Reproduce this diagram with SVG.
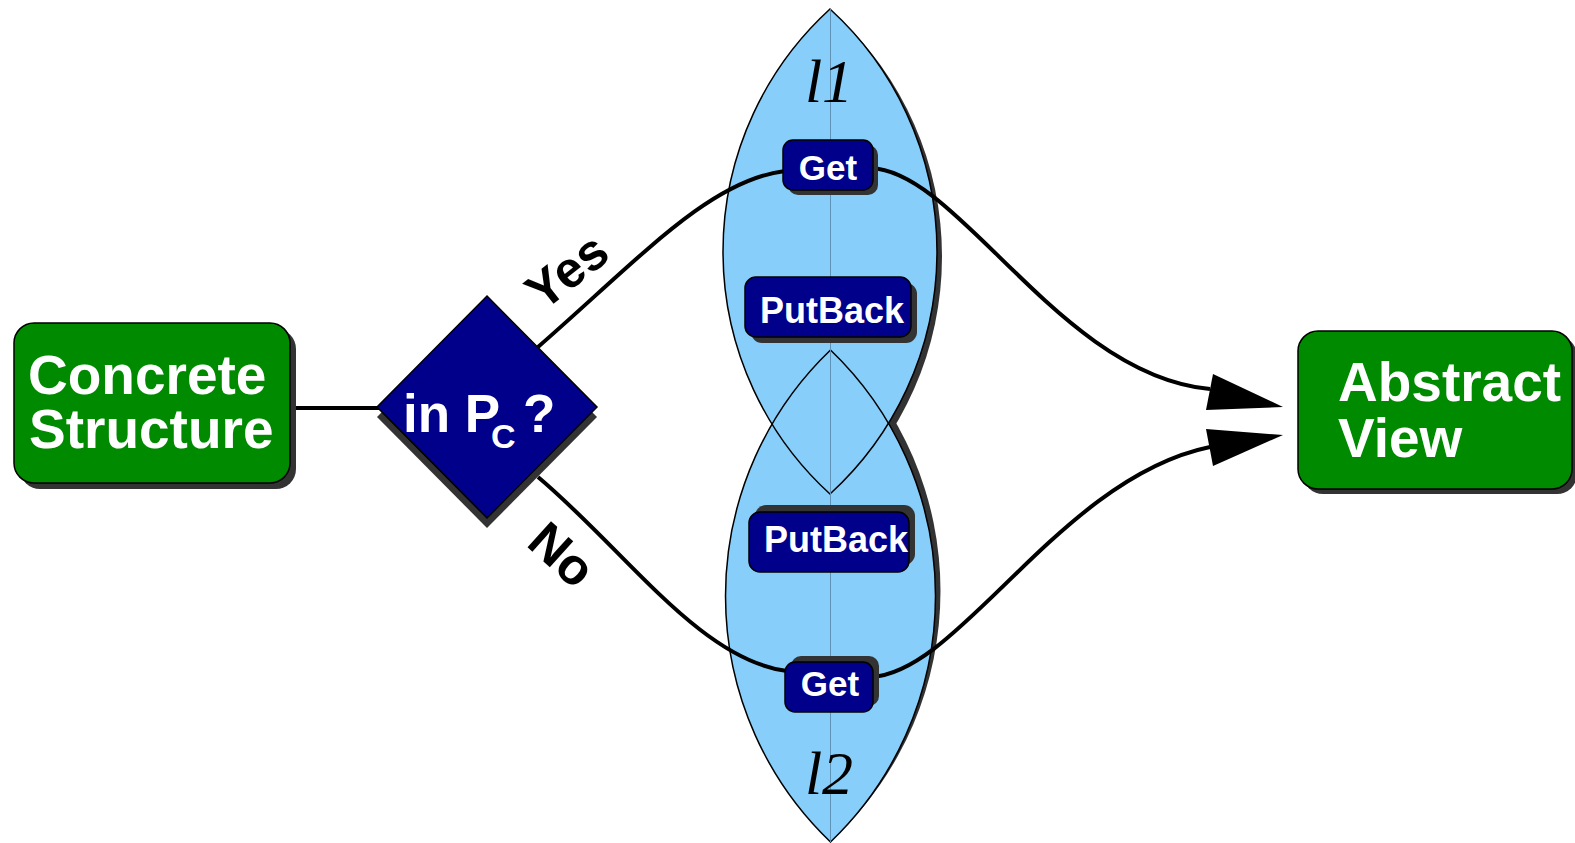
<svg xmlns="http://www.w3.org/2000/svg" width="1575" height="843" viewBox="0 0 1575 843">
  <style>
    .shadow { fill: #333333; }
    .green { fill: #008a00; stroke: #000; stroke-width: 1.5; }
    .navy { fill: #00008b; stroke: #000; stroke-width: 1.5; }
    .lensfill { fill: #87cefa; }
    .lensline { fill: none; stroke: #000; stroke-width: 1.5; }
    .axis { stroke: #5f93b8; stroke-width: 1; }
    .wire { fill: none; stroke: #000; stroke-width: 4; }
    .head { fill: #000; }
    .big { font-family: "Liberation Sans", Arial, sans-serif; font-weight: bold; font-size: 55px; fill: #fff; }
    .op { font-family: "Liberation Sans", Arial, sans-serif; font-weight: bold; font-size: 35px; fill: #fff; }
    .op-wide { font-family: "Liberation Sans", Arial, sans-serif; font-weight: bold; font-size: 36px; fill: #fff; }
    .q { font-family: "Liberation Sans", Arial, sans-serif; font-weight: bold; font-size: 53px; fill: #fff; }
    .sub { font-family: "Liberation Sans", Arial, sans-serif; font-weight: bold; font-size: 34px; fill: #fff; }
    .lbl { font-family: "Liberation Sans", Arial, sans-serif; font-weight: bold; font-size: 51px; fill: #000; }
    .lens-name { font-family: "Liberation Serif", "Times New Roman", serif; font-style: italic; font-size: 62px; fill: #000; text-anchor: middle; }
  </style>
  <defs>
    <path id="lens1" d="M830,9 A328.3,328.3 0 0,1 830,494 A328.3,328.3 0 0,1 830,9 Z"/>
    <path id="lens2" d="M830.5,350 A340.7,340.7 0 0,1 830.5,842 A340.7,340.7 0 0,1 830.5,350 Z"/>
  </defs>

  <rect width="1575" height="843" fill="#fff"/>

  <!-- the two lenses l1 and l2 -->
  <g id="lenses">
    <use href="#lens1" class="shadow" transform="translate(5,5)"/>
    <use href="#lens2" class="shadow" transform="translate(5,-5)"/>
    <use href="#lens1" class="lensfill"/>
    <use href="#lens2" class="lensfill"/>
    <use href="#lens1" class="lensline"/>
    <use href="#lens2" class="lensline"/>
    <line class="axis" x1="830.5" y1="9" x2="830.5" y2="842"/>
    <text class="lens-name" x="829" y="102">l1</text>
    <text class="lens-name" x="829" y="794">l2</text>
  </g>

  <!-- connectors -->
  <g id="connectors">
    <line class="wire" x1="288" y1="408" x2="380" y2="408"/>
    <path class="wire" d="M538,347 C640,258 710,180 785,171"/>
    <path class="wire" d="M871,168 C960,172 1060,375 1210,389"/>
    <polygon class="head" points="1283,407 1213,374 1206,410"/>
    <path class="wire" d="M538,477 C625,550 700,660 787,671"/>
    <path class="wire" d="M871,677 C960,673 1060,478 1210,447"/>
    <polygon class="head" points="1283,435 1206,429 1213,466"/>
    <text class="lbl" transform="translate(543,312) rotate(-38)">Yes</text>
    <text class="lbl" transform="translate(525,545) rotate(42)">No</text>
  </g>

  <g id="concrete">
    <rect class="shadow" x="20" y="329" width="276" height="160" rx="20"/>
    <rect class="green" x="14" y="323" width="276" height="160" rx="20"/>
    <text class="big" x="28" y="394">Concrete</text>
    <text class="big" x="29" y="448">Structure</text>
  </g>

  <g id="decision">
    <polygon class="shadow" points="487,306 597,417 487,528 377,417"/>
    <polygon class="navy" points="487,296 597,407 487,518 377,407"/>
    <text class="q" x="403" y="432">in P</text>
    <text class="sub" x="491" y="448">C</text>
    <text class="q" x="523" y="432">?</text>
  </g>

  <g id="get1">
    <rect class="shadow" x="788" y="145" width="90" height="50" rx="10"/>
    <rect class="navy" x="783" y="140" width="90" height="50" rx="10"/>
    <text class="op" x="828" y="180" text-anchor="middle">Get</text>
  </g>

  <g id="putback1">
    <rect class="shadow" x="751" y="283" width="166" height="60" rx="11"/>
    <rect class="navy" x="745" y="277" width="166" height="60" rx="11"/>
    <text class="op-wide" x="760" y="323">PutBack</text>
  </g>

  <g id="putback2">
    <rect class="shadow" x="755" y="505" width="160" height="60" rx="11"/>
    <rect class="navy" x="749" y="512" width="160" height="60" rx="11"/>
    <text class="op-wide" x="764" y="552">PutBack</text>
  </g>

  <g id="get2">
    <rect class="shadow" x="791" y="656" width="88" height="50" rx="10"/>
    <rect class="navy" x="785" y="662" width="88" height="50" rx="10"/>
    <text class="op" x="830" y="696" text-anchor="middle">Get</text>
  </g>

  <g id="abstract">
    <rect class="shadow" x="1303" y="336" width="274" height="158" rx="20"/>
    <rect class="green" x="1298" y="331" width="274" height="158" rx="20"/>
    <text class="big" x="1338" y="401">Abstract</text>
    <text class="big" x="1338" y="457">View</text>
  </g>
</svg>
